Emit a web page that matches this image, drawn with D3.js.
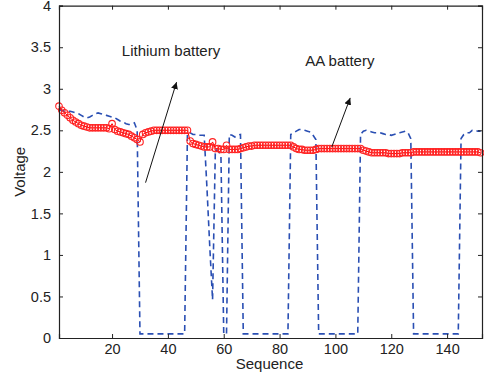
<!DOCTYPE html>
<html>
<head>
<meta charset="utf-8">
<script src="https://cdn.jsdelivr.net/npm/d3@7"></script>
<style>
  body { margin: 0; background: #fff; }
  text { font-family: Arial, "Liberation Sans", sans-serif; fill: #222; }
</style>
</head>
<body>
<div id="chart"></div>
<script>
// Lithium battery voltage (red circles), one value per sample
var lithium = [
  2.79, 2.74, 2.71, 2.68, 2.65, 2.62, 2.60, 2.58, 2.56, 2.55,
  2.54, 2.53, 2.53, 2.53, 2.53, 2.53, 2.53, 2.53, 2.52, 2.58,
  2.51, 2.49, 2.48, 2.47, 2.46, 2.45, 2.43, 2.41, 2.39, 2.36,
  2.45, 2.47, 2.48, 2.49, 2.50, 2.50, 2.50, 2.50, 2.50, 2.50,
  2.50, 2.50, 2.50, 2.50, 2.50, 2.50, 2.50, 2.37, 2.34, 2.33,
  2.32, 2.31, 2.30, 2.30, 2.30, 2.36, 2.28, 2.28, 2.27, 2.27,
  2.32, 2.27, 2.27, 2.27, 2.27, 2.28, 2.29, 2.30, 2.31, 2.31,
  2.32, 2.32, 2.32, 2.32, 2.32, 2.32, 2.32, 2.32, 2.32, 2.32,
  2.32, 2.32, 2.32, 2.32, 2.30, 2.28, 2.27, 2.27, 2.26, 2.26,
  2.26, 2.26, 2.27, 2.28, 2.28, 2.28, 2.28, 2.28, 2.28, 2.28,
  2.28, 2.28, 2.28, 2.28, 2.28, 2.28, 2.28, 2.28, 2.28, 2.26,
  2.25, 2.24, 2.23, 2.23, 2.23, 2.23, 2.23, 2.23, 2.22, 2.22,
  2.22, 2.22, 2.22, 2.23, 2.23, 2.23, 2.23, 2.24, 2.24, 2.24,
  2.24, 2.24, 2.24, 2.24, 2.24, 2.24, 2.24, 2.24, 2.24, 2.24,
  2.24, 2.24, 2.24, 2.24, 2.24, 2.24, 2.24, 2.24, 2.24, 2.24,
  2.24, 2.23
];

// AA battery voltage (blue dashed), one value per sample
var aa = [
  2.75, 2.74, 2.73, 2.73, 2.73, 2.72, 2.71, 2.70, 2.68, 2.66,
  2.65, 2.66, 2.68, 2.70, 2.71, 2.70, 2.69, 2.68, 2.67, 2.66,
  2.65, 2.63, 2.61, 2.60, 2.58, 2.57, 2.57, 2.59, 2.50, 0.05,
  0.05, 0.05, 0.05, 0.05, 0.05, 0.05, 0.05, 0.05, 0.05, 0.05,
  0.05, 0.05, 0.05, 0.05, 0.05, 0.05, 2.46, 2.47, 2.45, 2.45,
  2.44, 2.44, 2.44, 1.80, 1.10, 0.46, 2.27, 2.25, 2.20, 0.05,
  0.05, 2.45, 2.44, 2.42, 2.44, 2.45, 0.05, 0.05, 0.05, 0.05,
  0.05, 0.05, 0.05, 0.05, 0.05, 0.05, 0.05, 0.05, 0.05, 0.05,
  0.05, 0.05, 0.05, 2.45, 2.47, 2.49, 2.51, 2.51, 2.50, 2.49,
  2.48, 2.44, 2.39, 0.05, 0.05, 0.05, 0.05, 0.05, 0.05, 0.05,
  0.05, 0.05, 0.05, 0.05, 0.05, 0.05, 0.05, 0.05, 2.45, 2.49,
  2.50, 2.49, 2.48, 2.47, 2.47, 2.47, 2.46, 2.45, 2.45, 2.44,
  2.45, 2.46, 2.47, 2.48, 2.49, 2.47, 2.40, 0.05, 0.05, 0.05,
  0.05, 0.05, 0.05, 0.05, 0.05, 0.05, 0.05, 0.05, 0.05, 0.05,
  0.05, 0.05, 0.05, 0.05, 2.40, 2.45, 2.47, 2.47, 2.50, 2.50,
  2.49, 2.49
];

var xTicks = [20, 40, 60, 80, 100, 120, 140];
var yTicks = [0, 0.5, 1, 1.5, 2, 2.5, 3, 3.5, 4];

// annotations in data units: label position, arrow tail and head
var notes = [
  {text: "Lithium battery", x: 23.5, y: 3.39, from: [32, 1.87], to: [43.1, 3.08]},
  {text: "AA battery", x: 89.2, y: 3.27, from: [98.7, 2.30], to: [105.3, 2.89]}
];

var svgWidth = 484, svgHeight = 380;
var margin = {top: 5.7, right: 2, bottom: 42, left: 59};
var width = svgWidth - margin.left - margin.right;
var height = svgHeight - margin.top - margin.bottom;

var svg = d3.select("#chart").append("svg")
  .attr("width", svgWidth)
  .attr("height", svgHeight);

var chartGroup = svg.append("g")
  .attr("transform", `translate(${margin.left}, ${margin.top})`);

var x = d3.scaleLinear().domain([1, 152.5]).range([0, width]);
var y = d3.scaleLinear().domain([0, 4]).range([height, 0]);

// arrow head
svg.append("defs").append("marker")
  .attr("id", "head")
  .attr("viewBox", "0 0 10 10")
  .attr("refX", 10).attr("refY", 5)
  .attr("markerWidth", 7).attr("markerHeight", 7)
  .attr("markerUnits", "userSpaceOnUse")
  .attr("orient", "auto")
  .append("path").attr("d", "M0,0 L10,5 L0,10 z").attr("fill", "#111");

// AA battery dashed line
var line = d3.line().x((d, i) => x(i + 1)).y(d => y(d));
chartGroup.append("path")
  .datum(aa)
  .attr("d", line)
  .attr("fill", "none")
  .attr("stroke", "#2a4fb3")
  .attr("stroke-width", 1.6)
  .attr("stroke-dasharray", "6,4");

// lithium line + circles
chartGroup.append("path")
  .datum(lithium)
  .attr("d", line)
  .attr("fill", "none")
  .attr("stroke", "#f00")
  .attr("stroke-width", 1);

chartGroup.selectAll("circle.li")
  .data(lithium)
  .enter()
  .append("circle")
  .attr("class", "li")
  .attr("cx", (d, i) => x(i + 1))
  .attr("cy", d => y(d))
  .attr("r", 3.3)
  .attr("fill", "none")
  .attr("stroke", "#f22")
  .attr("stroke-width", 1.1);

// axes, MATLAB style: ticks inside, box all around
var bottomAxis = d3.axisBottom(x).tickValues(xTicks).tickSize(-4);
var leftAxis = d3.axisLeft(y).tickValues(yTicks).tickSize(-4).tickPadding(8)
  .tickFormat(d3.format("~g"));

var gx = chartGroup.append("g").attr("transform", `translate(0, ${height})`).call(bottomAxis);
var gy = chartGroup.append("g").call(leftAxis);
chartGroup.append("g").call(d3.axisTop(x).tickValues(xTicks).tickSize(-4).tickFormat(""));
chartGroup.append("g").attr("transform", `translate(${width}, 0)`)
  .call(d3.axisRight(y).tickValues(yTicks).tickSize(-4).tickFormat(""));

chartGroup.selectAll(".domain").attr("stroke", "#222").attr("stroke-width", 1.2);
chartGroup.selectAll(".tick line").attr("stroke", "#222");
chartGroup.selectAll(".tick text").style("font-size", "14.5px").attr("fill", "#222");
gx.selectAll(".tick text").attr("y", 15.5).attr("dy", 0);

// annotations
notes.forEach(function(n) {
  chartGroup.append("text")
    .attr("x", x(n.x)).attr("y", y(n.y))
    .style("font-size", "15px")
    .text(n.text);
  chartGroup.append("line")
    .attr("x1", x(n.from[0])).attr("y1", y(n.from[1]))
    .attr("x2", x(n.to[0])).attr("y2", y(n.to[1]))
    .attr("stroke", "#111").attr("stroke-width", 1)
    .attr("marker-end", "url(#head)");
});

// axis titles
chartGroup.append("text")
  .attr("transform", "rotate(-90)")
  .attr("x", -height / 2)
  .attr("y", -margin.left + 25)
  .attr("text-anchor", "middle")
  .style("font-size", "15px")
  .text("Voltage");

chartGroup.append("text")
  .attr("x", width / 2 - 1)
  .attr("y", height + 31)
  .attr("text-anchor", "middle")
  .style("font-size", "15px")
  .text("Sequence");
</script>
</body>
</html>
